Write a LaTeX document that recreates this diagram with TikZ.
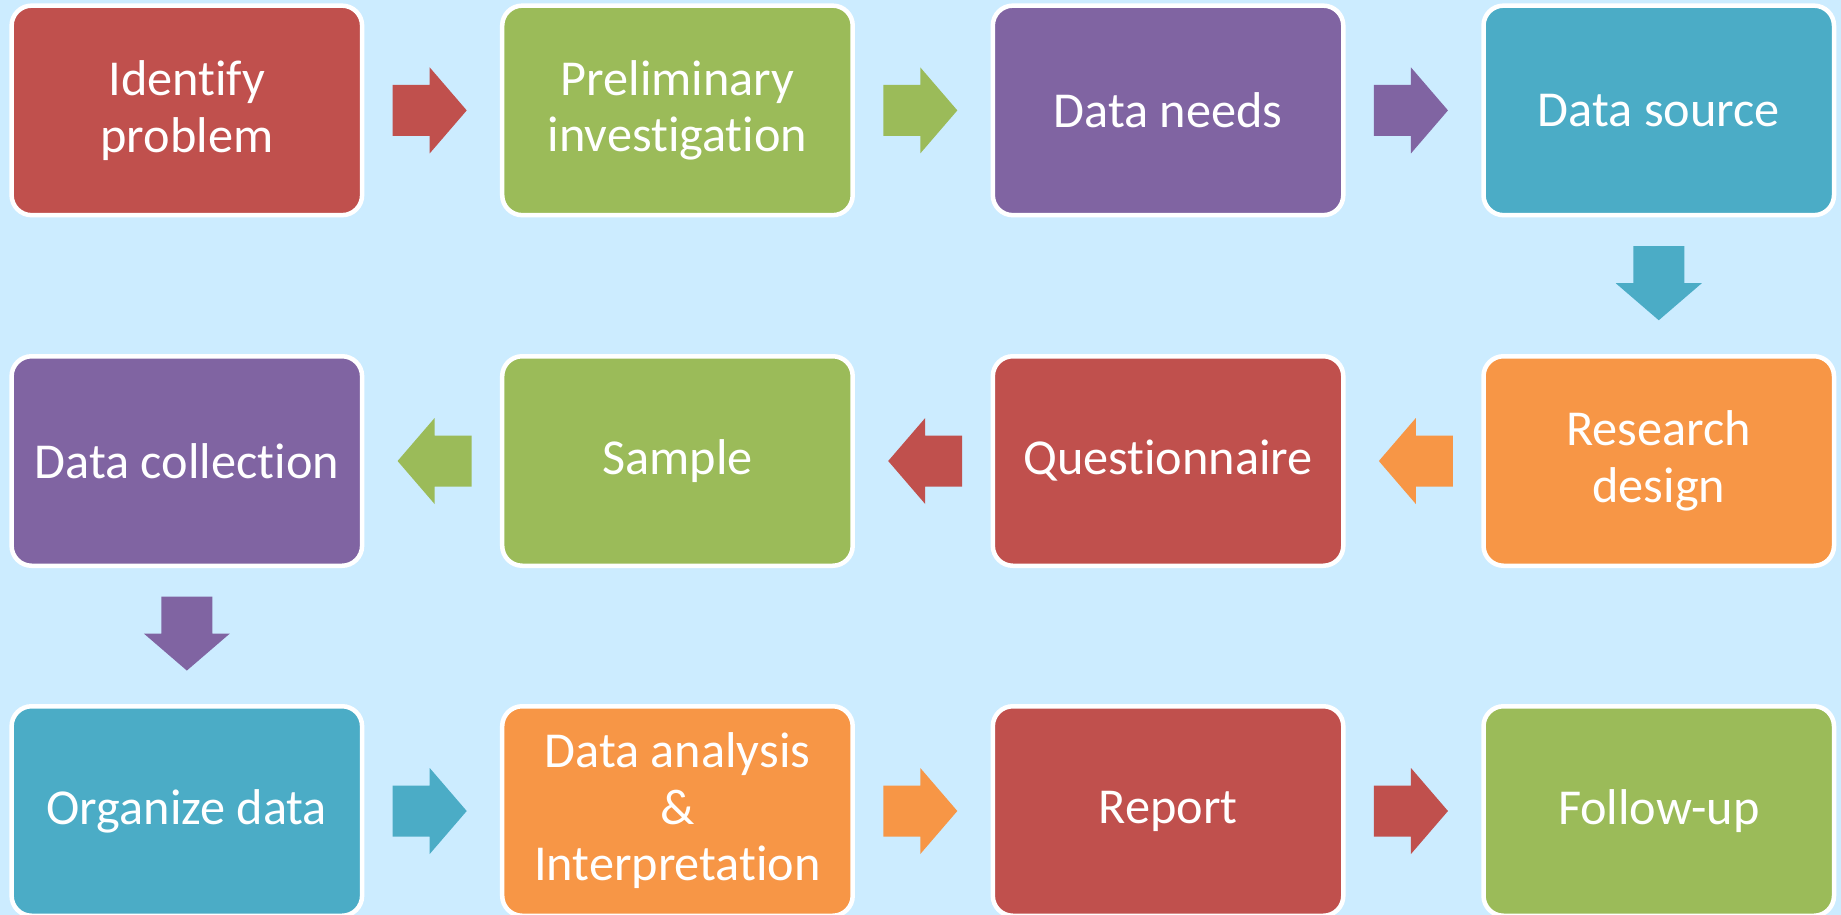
\documentclass[tikz,border=0pt]{standalone}
\usepackage{fontspec}
\setmainfont{Carlito}[Ligatures=NoCommon]
\usetikzlibrary{calc}
\definecolor{bgblue}{HTML}{CCECFF}
\definecolor{cred}{HTML}{C0504D}
\definecolor{cgreen}{HTML}{9BBB59}
\definecolor{cpurple}{HTML}{8064A2}
\definecolor{cteal}{HTML}{4BACC6}
\definecolor{corange}{HTML}{F79646}
% block arrow placed between two stages: from, to, angle, colour
\newcommand\flowarrow[4]{%
  \fill[#4, shift={($(#1)!0.482!(#2)$)}, rotate=#3]
    (-37,-25.5) -- (0,-25.5) -- (0,-43) -- (37,0) -- (0,43) -- (0,25.5) -- (-37,25.5) -- cycle;}
\begin{document}
\begin{tikzpicture}[x=1pt, y=-1pt,
  stage/.style={draw=white, line width=4.5pt, rounded corners=20pt,
    minimum width=350.5pt, minimum height=209.5pt, inner sep=0pt,
    align=center, text=white, font=\fontsize{50.3}{56.5}\selectfont}]
\useasboundingbox (0,0) rectangle (1841,915);
\clip (0,0) rectangle (1841,915);
\fill[bgblue] (0,0) rectangle (1841,915);

% first row, left to right
\node[stage, fill=cred]    (s1)  at (186.85, 110.4) {Identify\\problem};
\node[stage, fill=cgreen]  (s2)  at (677.45, 110.4) {Preliminary\\investigation};
\node[stage, fill=cpurple] (s3)  at (1168.05,110.4) {Data needs};
\node[stage, fill=cteal]   (s4)  at (1658.75,110.4) {Data source};
% second row, right to left
\node[stage, fill=corange] (s5)  at (1658.75,461) {Research\\design};
\node[stage, fill=cred]    (s6)  at (1168.05,461) {Questionnaire};
\node[stage, fill=cgreen]  (s7)  at (677.45, 461) {Sample};
\node[stage, fill=cpurple] (s8)  at (186.85, 461) {Data collection};
% third row, left to right
\node[stage, fill=cteal]   (s9)  at (186.85, 811) {Organize data};
\node[stage, fill=corange] (s10) at (677.45, 811) {Data analysis\\\&\\Interpretation};
\node[stage, fill=cred]    (s11) at (1168.05,811) {Report};
\node[stage, fill=cgreen]  (s12) at (1658.75,811) {Follow-up};

\flowarrow{s1.east}{s2.west}{0}{cred}
\flowarrow{s2.east}{s3.west}{0}{cgreen}
\flowarrow{s3.east}{s4.west}{0}{cpurple}
\flowarrow{s4.south}{s5.north}{-90}{cteal}
\flowarrow{s5.west}{s6.east}{180}{corange}
\flowarrow{s6.west}{s7.east}{180}{cred}
\flowarrow{s7.west}{s8.east}{180}{cgreen}
\flowarrow{s8.south}{s9.north}{-90}{cpurple}
\flowarrow{s9.east}{s10.west}{0}{cteal}
\flowarrow{s10.east}{s11.west}{0}{corange}
\flowarrow{s11.east}{s12.west}{0}{cred}
\end{tikzpicture}
\end{document}
